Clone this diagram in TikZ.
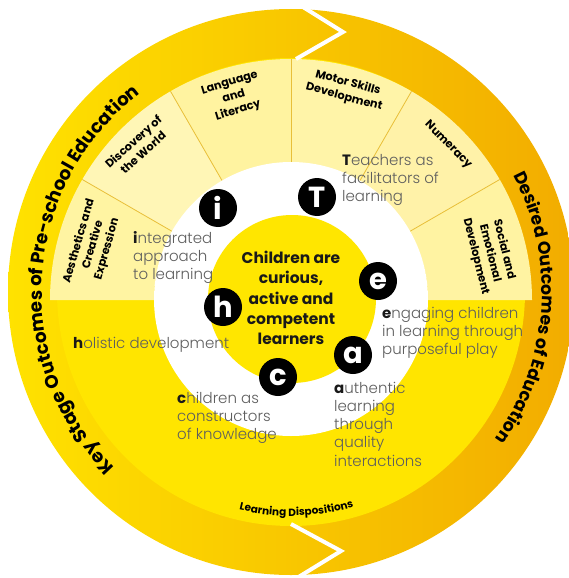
\documentclass[tikz,border=0pt]{standalone}
\usepackage{fontspec}
\setmainfont{Poppins}
\IfFontExistsTF{Poppins Light}{\newfontfamily\lightf{Poppins Light}}{\newfontfamily\lightf{Poppins}}
\usetikzlibrary{decorations.text}
\definecolor{ringL}{HTML}{FFE200}
\definecolor{ringM}{HTML}{F9C400}
\definecolor{ringR}{HTML}{F2AC00}
\definecolor{lowY}{HTML}{FFE500}
\definecolor{coreY}{HTML}{FFE600}
\definecolor{secA}{HTML}{FFF4A2}
\definecolor{secB}{HTML}{FFF6B6}
\definecolor{secC}{HTML}{FFF3A0}
\definecolor{secD}{HTML}{FFF4A8}
\definecolor{secE}{HTML}{FFF2A8}
\definecolor{secF}{HTML}{FFF3A2}
\definecolor{secLine}{HTML}{E8BF3A}
\definecolor{txtGray}{HTML}{5E5E5E}
\newcommand\firstl[1]{{\fontspec{Poppins}\bfseries\color{black!90}#1}}
\begin{document}
\begin{tikzpicture}[x=1pt,y=1pt,
  badge/.style={circle, fill=black, minimum size=38pt, inner sep=0pt, text=white, font=\bfseries\fontsize{29}{29}\selectfont},
  desc/.style={anchor=base west, align=left, inner sep=0pt, text=txtGray, font=\lightf\fontsize{15}{18.3}\selectfont},
  seclabel/.style={align=center, inner sep=0pt, text=black, font=\bfseries\fontsize{11.3}{14.5}\selectfont},
  chevron/.style={white, line width=4pt, line join=miter},
  arctext/.style={decorate, decoration={text along path, text align=center, text={#1}}}
]
\useasboundingbox (0,0) rectangle (569,-578);
\coordinate (O) at (291,-292);
\coordinate (C) at (291,-300);
% outer arrow ring
\shade[left color=ringL, middle color=ringM, right color=ringR] (O) circle[radius=283];
% lower (learning dispositions) region
\fill[lowY] (O) circle[radius=234];
% learning area sectors
\foreach \a/\col in {150/secA,120/secB,90/secC,60/secD,30/secE,0/secF} {
  \fill[\col, shift={(291,-300)}] (\a:137) -- (\a:241)
    arc[start angle=\a, end angle=\a+30, radius=241] -- ({\a+30}:137)
    arc[start angle=\a+30, end angle=\a, radius=137] -- cycle;
}
\foreach \a in {30,60,90,120,150} {
  \draw[secLine, line width=0.8pt, shift={(291,-300)}] (\a:137) -- (\a:241);
}
% white ring and core
\fill[white] (291,-299) circle[radius=137];
\fill[coreY] (292,-299) circle[radius=84];
% chevrons
\draw[chevron] (295,-2) -- (343,-32) -- (296,-59);
\draw[chevron] (291,-524) -- (341,-551) -- (292,-581);
% ring texts
\path[shift={(291,-292)}, arctext={|\bfseries\fontsize{18.3}{18.3}\selectfont|Key Stage Outcomes of Pre-school Education}]
  (240:249) arc[start angle=240, end angle=112, radius=249];
\path[shift={(291,-292)}, arctext={|\bfseries\fontsize{17.3}{17.3}\selectfont|Desired Outcomes of Education}]
  (36:251) arc[start angle=36, end angle=-44, radius=251];
\path[shift={(291,-300)}, arctext={|\bfseries\fontsize{10.5}{10.5}\selectfont|Learning Dispositions}]
  (246:216) arc[start angle=246, end angle=297, radius=216];
% sector labels
\node[seclabel, rotate=74] (s1) at (93,-245) {Aesthetics and\\Creative\\Expression};
\node[seclabel, rotate=42] (s2) at (138,-147) {Discovery of\\the World};
\node[seclabel, rotate=17] (s3) at (234,-97) {Language\\and\\Literacy};
\node[seclabel, rotate=-15] (s4) at (346,-90) {Motor Skills\\Development};
\node[seclabel, rotate=-45] (s5) at (448,-145) {Numeracy};
\node[seclabel, rotate=-76] (s6) at (490,-253) {Social and\\Emotional\\Development};
% core text
\node[align=center, inner sep=0pt, text=black!90, font=\bfseries\fontsize{15.5}{20.3}\selectfont] (core) at (291,-298)
  {Children are\\curious,\\active and\\competent\\learners};
% badges
\node[badge] (bi) at (218,-208) {i};
\node[badge] (bT) at (317,-197) {T};
\node[badge] (be) at (378,-281) {e};
\node[badge] (bh) at (223,-307) {h};
\node[badge] (ba) at (353,-355) {a};
\node[badge] (bc) at (278,-377) {c};
% descriptions (base anchor = last line's baseline)
\node[desc] (ti) at (133,-279.6) {\firstl{i}ntegrated\\approach\\to learning};
\node[desc] (tT) at (342,-201.6) {\firstl{T}eachers as\\facilitators of\\learning};
\node[desc] (te) at (382,-354.6) {\firstl{e}ngaging children\\in learning through\\purposeful play};
\node[desc] (ta) at (334,-466.2) {\firstl{a}uthentic\\learning\\through\\quality\\interactions};
\node[desc] (tc) at (177,-439.6) {\firstl{c}hildren as\\constructors\\of knowledge};
\node[desc] (th) at (73,-348) {\firstl{h}olistic development};
\end{tikzpicture}
\end{document}
